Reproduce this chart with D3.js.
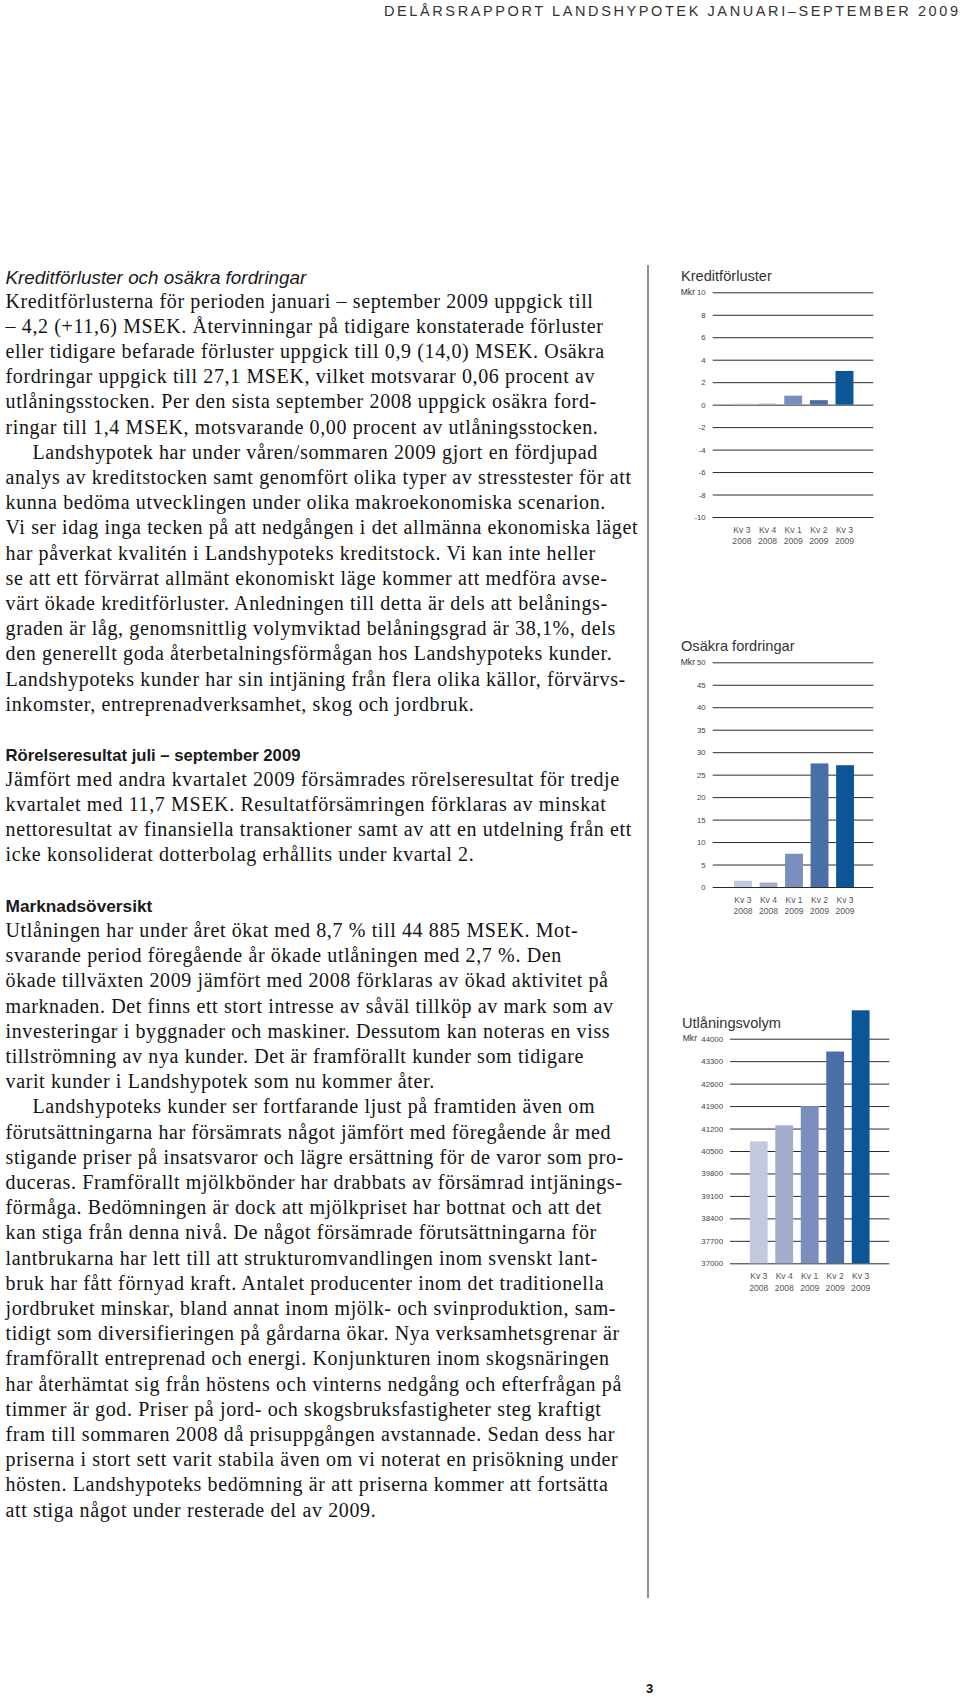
<!DOCTYPE html>
<html><head><meta charset="utf-8">
<script src="https://cdn.jsdelivr.net/npm/d3@7"></script>
<style>
html,body{margin:0;padding:0;background:#fff;}
svg{display:block;}
</style></head>
<body>
<svg id="page" width="960" height="1697"></svg>
<script>
// ---------- DATA ----------
const quarterLabels = ["Kv 3", "Kv 4", "Kv 1", "Kv 2", "Kv 3"];
const yearLabels = ["2008", "2008", "2009", "2009", "2009"];
const kreditforluster = [0.1, 0.1, 0.8, 0.4, 3.0];
const osakraFordringar = [1.4, 1.0, 7.4, 27.5, 27.1];
const utlaningsvolym = [40800, 41300, 41900, 43600, 44885];
const ticksKredit = [10, 8, 6, 4, 2, 0, -2, -4, -6, -8, -10];
const ticksOsakra = [50, 45, 40, 35, 30, 25, 20, 15, 10, 5, 0];
const ticksUtlaning = [44000, 43300, 42600, 41900, 41200, 40500, 39800, 39100, 38400, 37700, 37000];
const barColors = ["#c4c9de", "#a3aecd", "#7a8fbe", "#4a6ea6", "#0c5596"];

const headerText = "DELÅRSRAPPORT LANDSHYPOTEK JANUARI–SEPTEMBER 2009";
const pageNumber = "3";

const block1Heading = "Kreditförluster och osäkra fordringar";
const block1Lines = [
  "Kreditförlusterna för perioden januari – september 2009 uppgick till",
  "– 4,2 (+11,6) MSEK. Återvinningar på tidigare konstaterade förluster",
  "eller tidigare befarade förluster uppgick till 0,9 (14,0) MSEK. Osäkra",
  "fordringar uppgick till 27,1 MSEK, vilket motsvarar 0,06 procent av",
  "utlåningsstocken. Per den sista september 2008 uppgick osäkra ford-",
  "ringar till 1,4 MSEK, motsvarande 0,00 procent av utlåningsstocken.",
  "\tLandshypotek har under våren/sommaren 2009 gjort en fördjupad",
  "analys av kreditstocken samt genomfört olika typer av stresstester för att",
  "kunna bedöma utvecklingen under olika makroekonomiska scenarion.",
  "Vi ser idag inga tecken på att nedgången i det allmänna ekonomiska läget",
  "har påverkat kvalitén i Landshypoteks kreditstock. Vi kan inte heller",
  "se att ett förvärrat allmänt ekonomiskt läge kommer att medföra avse-",
  "värt ökade kreditförluster. Anledningen till detta är dels att belånings-",
  "graden är låg, genomsnittlig volymviktad belåningsgrad är 38,1%, dels",
  "den generellt goda återbetalningsförmågan hos Landshypoteks kunder.",
  "Landshypoteks kunder har sin intjäning från flera olika källor, förvärvs-",
  "inkomster, entreprenadverksamhet, skog och jordbruk."
];
const block2Heading = "Rörelseresultat juli – september 2009";
const block2Lines = [
  "Jämfört med andra kvartalet 2009 försämrades rörelseresultat för tredje",
  "kvartalet med 11,7 MSEK. Resultatförsämringen förklaras av minskat",
  "nettoresultat av finansiella transaktioner samt av att en utdelning från ett",
  "icke konsoliderat dotterbolag erhållits under kvartal 2."
];
const block3Heading = "Marknadsöversikt";
const block3Lines = [
  "Utlåningen har under året ökat med 8,7 % till 44 885 MSEK. Mot-",
  "svarande period föregående år ökade utlåningen med 2,7 %. Den",
  "ökade tillväxten 2009 jämfört med 2008 förklaras av ökad aktivitet på",
  "marknaden. Det finns ett stort intresse av såväl tillköp av mark som av",
  "investeringar i byggnader och maskiner. Dessutom kan noteras en viss",
  "tillströmning av nya kunder. Det är framförallt kunder som tidigare",
  "varit kunder i Landshypotek som nu kommer åter.",
  "\tLandshypoteks kunder ser fortfarande ljust på framtiden även om",
  "förutsättningarna har försämrats något jämfört med föregående år med",
  "stigande priser på insatsvaror och lägre ersättning för de varor som pro-",
  "duceras. Framförallt mjölkbönder har drabbats av försämrad intjänings-",
  "förmåga. Bedömningen är dock att mjölkpriset har bottnat och att det",
  "kan stiga från denna nivå. De något försämrade förutsättningarna för",
  "lantbrukarna har lett till att strukturomvandlingen inom svenskt lant-",
  "bruk har fått förnyad kraft. Antalet producenter inom det traditionella",
  "jordbruket minskar, bland annat inom mjölk- och svinproduktion, sam-",
  "tidigt som diversifieringen på gårdarna ökar. Nya verksamhetsgrenar är",
  "framförallt entreprenad och energi. Konjunkturen inom skogsnäringen",
  "har återhämtat sig från höstens och vinterns nedgång och efterfrågan på",
  "timmer är god. Priser på jord- och skogsbruksfastigheter steg kraftigt",
  "fram till sommaren 2008 då prisuppgången avstannade. Sedan dess har",
  "priserna i stort sett varit stabila även om vi noterat en prisökning under",
  "hösten. Landshypoteks bedömning är att priserna kommer att fortsätta",
  "att stiga något under resterade del av 2009."
];

// ---------- LAYOUT ----------
const svg = d3.select("#page");
const SANS = "'Liberation Sans', Arial, Helvetica, sans-serif";
const SERIF = "'Liberation Serif', 'Times New Roman', serif";

// header
svg.append("text")
  .attr("x", 384).attr("y", 15.5)
  .attr("font-family", SANS).attr("font-size", 14.5)
  .attr("fill", "#333")
  .attr("textLength", 574).attr("lengthAdjust", "spacing")
  .text(headerText);

// vertical divider
svg.append("line")
  .attr("x1", 648).attr("x2", 648).attr("y1", 265).attr("y2", 1598)
  .attr("stroke", "#555").attr("stroke-width", 1.3);

// page number
svg.append("text")
  .attr("x", 646).attr("y", 1693)
  .attr("font-family", SANS).attr("font-size", 13).attr("font-weight", "bold")
  .attr("fill", "#111").text(pageNumber);

// ---------- BODY TEXT ----------
const textX = 5.5, bodyFS = 20, pitch = 25.2;
const probe = svg.append("text").attr("font-family", SERIF).attr("font-size", bodyFS)
  .text(block1Lines[0]);
const natural = probe.node().getComputedTextLength();
probe.remove();
const ls = (588 - natural) / (block1Lines[0].length);

function heading(txt, y, style, weight, target) {
  const t = svg.append("text").attr("x", textX).attr("y", y)
    .attr("font-family", SANS).attr("font-size", 16)
    .attr("font-style", style).attr("font-weight", weight)
    .attr("fill", "#1a1a1a").text(txt);
  const w = t.node().getComputedTextLength();
  t.attr("font-size", 16 * target / w);
}
function bodyLines(lines, y0) {
  lines.forEach((ln, i) => {
    const indent = ln.startsWith("\t");
    svg.append("text")
      .attr("x", textX + (indent ? 27 : 0))
      .attr("y", y0 + i * pitch)
      .attr("font-family", SERIF).attr("font-size", bodyFS)
      .attr("letter-spacing", ls)
      .attr("fill", "#141414")
      .text(indent ? ln.slice(1) : ln);
  });
}
heading(block1Heading, 284, "italic", "normal", 301);
bodyLines(block1Lines, 307.5);
heading(block2Heading, 760.5, "normal", "bold", 295);
bodyLines(block2Lines, 785.5);
heading(block3Heading, 911.5, "normal", "bold", 147);
bodyLines(block3Lines, 936.9);

// ---------- CHARTS ----------
function barChart(cfg) {
  const g = svg.append("g");
  const x = d3.scaleBand().domain(d3.range(cfg.values.length))
    .range(cfg.bandRange).paddingInner(0.3).paddingOuter(0.15);
  const y = d3.scaleLinear().domain(cfg.domain).range([cfg.yBot, cfg.yTop]);

  g.append("text").attr("x", cfg.titleX).attr("y", cfg.titleY)
    .attr("font-family", SANS).attr("font-size", 14.6).attr("fill", "#333")
    .text(cfg.title);

  const axis = d3.axisLeft(y).tickValues(cfg.ticks)
    .tickSize(-(cfg.gx1 - cfg.gx0)).tickPadding(7)
    .tickFormat(d => String(d));
  const ag = g.append("g").attr("transform", `translate(${cfg.gx0},0)`).call(axis);
  ag.select(".domain").remove();
  ag.selectAll(".tick line").attr("stroke", "#2a2a2a").attr("stroke-width", 1);
  ag.selectAll(".tick text").attr("font-family", SANS).attr("font-size", 7.8)
    .attr("fill", "#444");

  g.append("text").attr("x", cfg.mkrX).attr("y", y(cfg.ticks[0]))
    .attr("dy", "0.32em")
    .attr("font-family", SANS).attr("font-size", 8.6).attr("fill", "#333")
    .text("Mkr");

  const base = cfg.domain[0] < 0 ? 0 : cfg.domain[0];
  g.selectAll("rect.bar").data(cfg.values).join("rect")
    .attr("class", "bar")
    .attr("x", (d, i) => x(i))
    .attr("width", x.bandwidth())
    .attr("y", d => Math.min(y(d), y(base)))
    .attr("height", d => Math.abs(y(base) - y(d)))
    .attr("fill", (d, i) => barColors[i]);

  const xa = d3.axisBottom(x).tickSize(0).tickFormat(() => "");
  const xg = g.append("g").attr("transform", `translate(0,${cfg.yBot})`).call(xa);
  xg.select(".domain").remove();
  xg.selectAll(".tick text").remove();
  xg.selectAll(".tick").each(function (d, i) {
    const t = d3.select(this).append("text")
      .attr("text-anchor", "middle")
      .attr("font-family", SANS).attr("font-size", 8.6).attr("fill", "#555");
    t.append("tspan").attr("x", 0).attr("y", cfg.lab1 - cfg.yBot).text(quarterLabels[i]);
    t.append("tspan").attr("x", 0).attr("y", cfg.lab2 - cfg.yBot).text(yearLabels[i]);
  });
}

barChart({
  title: "Kreditförluster", titleX: 681, titleY: 281,
  values: kreditforluster, ticks: ticksKredit, domain: [-10, 10],
  gx0: 712.7, gx1: 873.3, yTop: 292.3, yBot: 517,
  bandRange: [729.1, 857.3], mkrX: 680.7, lab1: 532.7, lab2: 544
});
barChart({
  title: "Osäkra fordringar", titleX: 681, titleY: 650.7,
  values: osakraFordringar, ticks: ticksOsakra, domain: [0, 50],
  gx0: 712.7, gx1: 873.3, yTop: 662.3, yBot: 887,
  bandRange: [730.2, 857.8], mkrX: 680.7, lab1: 902.7, lab2: 914
});
barChart({
  title: "Utlåningsvolym", titleX: 682, titleY: 1028,
  values: utlaningsvolym, ticks: ticksUtlaning, domain: [37000, 44000],
  gx0: 730, gx1: 889.3, yTop: 1038.7, yBot: 1263.3,
  bandRange: [746, 873.4], mkrX: 682.7, lab1: 1279.3, lab2: 1290.7
});
</script>
</body></html>
